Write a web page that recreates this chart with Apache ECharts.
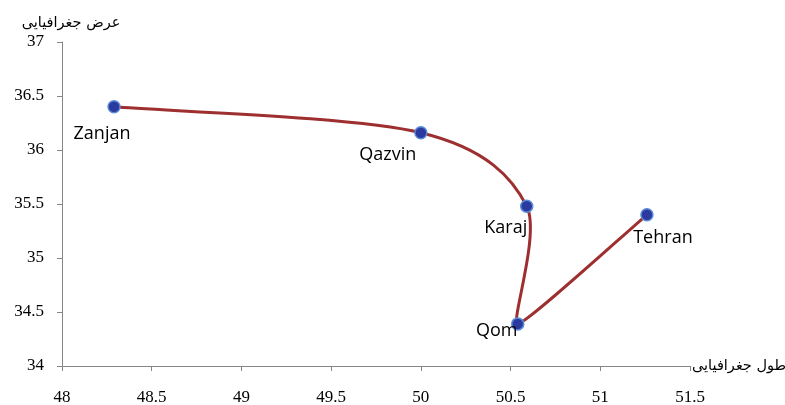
<!DOCTYPE html>
<html>
<head>
<meta charset="utf-8">
<script src="https://cdn.jsdelivr.net/npm/echarts@6/dist/echarts.min.js"></script>
<style>
  html, body { margin: 0; padding: 0; background: #fff; }
  #chart { width: 785px; height: 405px; }
</style>
</head>
<body>
<div id="chart"></div>
<script>
// Cities along the route, with longitude / latitude in degrees
const cities = ['Zanjan', 'Qazvin', 'Karaj', 'Qom', 'Tehran'];
const longitudes = [48.29, 50.00, 50.59, 50.54, 51.26];
const latitudes = [36.40, 36.16, 35.48, 34.39, 35.40];

const xTicks = [48, 48.5, 49, 49.5, 50, 50.5, 51, 51.5];
const yTicks = [34, 34.5, 35, 35.5, 36, 36.5, 37];

// Where each city's name sits relative to its marker
const labelOffsets = {
  Zanjan: [-12, 27],
  Qazvin: [-33, 22],
  Karaj: [-21, 22],
  Qom: [-21, 7],
  Tehran: [16, 23]
};

const points = cities.map((c, i) => ({
  name: c,
  value: [longitudes[i], latitudes[i]],
  label: { offset: labelOffsets[c] }
}));

const axisGray = '#868686';
const lineRed = '#9E2F30';
const serif = '"Liberation Serif", "Times New Roman", serif';

// Tangent-based Bezier arms (Catmull-Rom style), shortened at sharp turns
function armAt(pts, i) {
  const n = pts.length;
  const prev = pts[Math.max(i - 1, 0)];
  const next = pts[Math.min(i + 1, n - 1)];
  const tx = next[0] - prev[0];
  const ty = next[1] - prev[1];
  let s = 1;
  if (i > 0 && i < n - 1) {
    const ax = pts[i][0] - prev[0], ay = pts[i][1] - prev[1];
    const bx = next[0] - pts[i][0], by = next[1] - pts[i][1];
    const cos = (ax * bx + ay * by) / (Math.hypot(ax, ay) * Math.hypot(bx, by));
    s = Math.sqrt((1 + cos) / 2);
  }
  return [tx / 6 * s, ty / 6 * s];
}

function renderSegment(params, api) {
  const i = params.dataIndex;
  const n = longitudes.length;
  if (i >= n - 1) return null;
  const pts = longitudes.map((x, k) => api.coord([x, latitudes[k]]));
  const a0 = armAt(pts, i);
  const a1 = armAt(pts, i + 1);
  const p1 = pts[i], p2 = pts[i + 1];
  return {
    type: 'bezierCurve',
    shape: {
      x1: p1[0], y1: p1[1],
      cpx1: p1[0] + a0[0], cpy1: p1[1] + a0[1],
      cpx2: p2[0] - a1[0], cpy2: p2[1] - a1[1],
      x2: p2[0], y2: p2[1]
    },
    style: { stroke: lineRed, lineWidth: 3, fill: null }
  };
}

const chart = echarts.init(document.getElementById('chart'));
chart.setOption({
  animation: false,
  grid: { left: 62, right: 95, top: 42, bottom: 39, containLabel: false, outerBoundsMode: 'none' },
  xAxis: {
    type: 'value',
    min: xTicks[0],
    max: xTicks[xTicks.length - 1],
    interval: 0.5,
    name: 'طول جغرافیایی',
    nameLocation: 'end',
    nameGap: 2,
    nameTextStyle: { color: '#000', fontSize: 14.5, fontFamily: '"DejaVu Sans"', verticalAlign: 'middle', align: 'left', padding: [3, 0, 0, 0] },
    axisLine: { lineStyle: { color: axisGray, width: 1 } },
    axisTick: { show: true, inside: false, length: 5, lineStyle: { color: axisGray } },
    axisLabel: { color: '#000', fontSize: 17, fontFamily: serif, margin: 23 },
    splitLine: { show: false }
  },
  yAxis: {
    type: 'value',
    min: yTicks[0],
    max: yTicks[yTicks.length - 1],
    interval: 0.5,
    name: 'عرض جغرافیایی',
    nameLocation: 'end',
    nameGap: 11,
    nameTextStyle: { color: '#000', fontSize: 14.5, fontFamily: '"DejaVu Sans"', align: 'center', padding: [0, 0, 0, 18] },
    axisLine: { show: true, lineStyle: { color: axisGray, width: 1 } },
    axisTick: { show: true, inside: false, length: 5, lineStyle: { color: axisGray } },
    axisLabel: { color: '#000', fontSize: 17, fontFamily: serif, margin: 18 },
    splitLine: { show: false }
  },
  series: [
    {
      type: 'custom',
      renderItem: renderSegment,
      data: points.map(p => p.value),
      clip: false,
      silent: true,
      z: 2
    },
    {
      type: 'scatter',
      data: points,
      symbol: 'circle',
      symbolSize: 12,
      itemStyle: { color: '#2B3A9E', borderColor: '#5A8BD6', borderWidth: 1.5, opacity: 1 },
      label: {
        show: true,
        position: 'inside',
        formatter: '{b}',
        color: '#000',
        fontSize: 18,
        fontFamily: '"Open Sans", sans-serif',
        align: 'center',
        verticalAlign: 'middle'
      },
      z: 3
    }
  ]
});
</script>
</body>
</html>
